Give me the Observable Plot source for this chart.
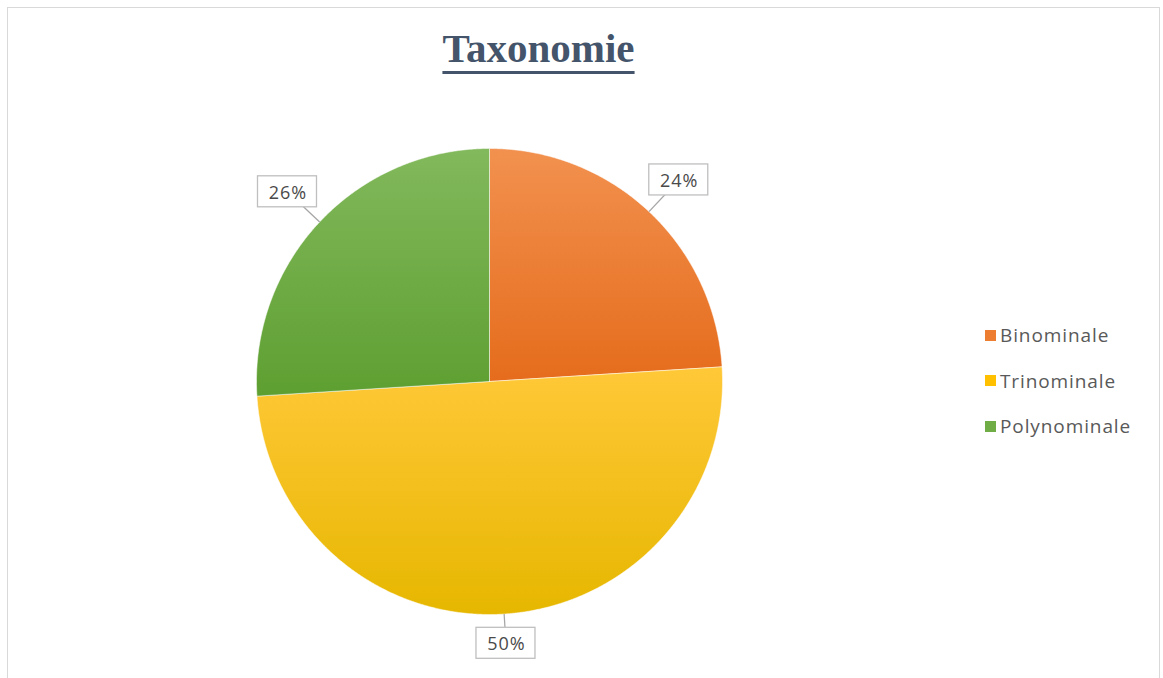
<!DOCTYPE html>
<html>
<head>
<meta charset="utf-8">
<script src="https://cdn.jsdelivr.net/npm/d3@7"></script>
<script src="https://cdn.jsdelivr.net/npm/@observablehq/plot@0.6"></script>
<style>
  html, body { margin: 0; padding: 0; background: #fff; }
  #wrap { position: relative; width: 1163px; height: 678px; overflow: hidden; }
  #frame { position: absolute; left: 7px; top: 7px; width: 1153px; height: 690px; border: 1px solid #D9D9D9; box-sizing: border-box; }
  #title { position: absolute; left: 0; top: 24px; width: 1077px; text-align: center;
           font-family: "Liberation Serif", "Times New Roman", serif; font-weight: bold; font-size: 41px;
           color: #44546A; text-decoration: underline; text-decoration-thickness: 3px; text-underline-offset: 9px; }
  #chart { position: absolute; left: 209px; top: 100px; }
  #chart text.lbl { letter-spacing: 1px; }
  #legend { position: absolute; left: 985px; top: 321px; font-family: "Open Sans", Lato, sans-serif; font-size: 19px; color: #595959; letter-spacing: 0.9px; }
  #legend .item { display: flex; align-items: center; height: 28px; margin-bottom: 17.5px; }
  #legend .sw { width: 11px; height: 11px; margin-right: 4px; }
</style>
</head>
<body>
<div id="wrap">
  <div id="frame"></div>
  <div id="title">Taxonomie</div>
  <div id="chart"></div>
  <div id="legend"></div>
</div>
<script>
// ---- data ----
const categories = ["Binominale", "Trinominale", "Polynominale"];
const values = [24, 50, 26];
const labels = ["24%", "50%", "26%"];
const colorsTop = ["#F2914F", "#FFC838", "#82B95C"];
const colorsBottom = ["#E56C1C", "#E6B700", "#5E9F31"];
const legendColors = ["#ED7D31", "#FFC000", "#70AD47"];

// ---- layout constants ----
const W = 560, H = 580;
const R = 233;             // pie radius in px
const cx = 280, cy = 281;  // pie centre in px within svg

const table = categories.map((c, i) => ({cat: c, value: values[i], label: labels[i], i}));
const arcs = d3.pie().sort(null).value(d => d.value)(table);

// polygon points for each slice (unit radius, y up)
const slicePts = [];
arcs.forEach(a => {
  const n = Math.max(8, Math.ceil((a.endAngle - a.startAngle) / 0.005));
  slicePts.push({cat: a.data.cat, x: 0, y: 0});
  for (let k = 0; k <= n; k++) {
    const t = a.startAngle + (a.endAngle - a.startAngle) * k / n;
    slicePts.push({cat: a.data.cat, x: Math.sin(t), y: Math.cos(t)});
  }
  slicePts.push({cat: a.data.cat, x: 0, y: 0});
});

// label positions
const boxW = 59, boxH = 31, gap = 12;
const labelData = arcs.map(a => {
  const m = (a.startAngle + a.endAngle) / 2;
  const dx = Math.sin(m), dy = Math.cos(m);
  const dist = (R + gap + Math.abs(dx) * boxW / 2 + Math.abs(dy) * boxH / 2) / R;
  const lx = dx * dist, ly = dy * dist;
  return {label: a.data.label, ex: dx, ey: dy, lx, ly,
          bx1: lx - boxW / 2 / R, bx2: lx + boxW / 2 / R, by1: ly - boxH / 2 / R, by2: ly + boxH / 2 / R};
});

const xDom = [-cx / R, (W - cx) / R];
const yDom = [-(H - cy) / R, cy / R];

const marks = categories.map((c, i) =>
  Plot.line(slicePts.filter(d => d.cat === c), {
    x: "x", y: "y", fill: `url(#grad${i})`, stroke: "#ffffff", strokeWidth: 1, strokeOpacity: 0.5, curve: "linear"
  })
);

const leaders = labelData.map(d => ({x1: d.ex, y1: d.ey, x2: d.lx, y2: d.ly}));
marks.push(Plot.link(leaders, {x1: "x1", y1: "y1", x2: "x2", y2: "y2", stroke: "#A6A6A6", strokeWidth: 1.3}));
marks.push(Plot.rect(labelData, {
  x1: "bx1", x2: "bx2", y1: "by1", y2: "by2", fill: "#ffffff", stroke: "#BFBFBF", strokeWidth: 1.3
}));
marks.push(Plot.text(labelData, {
  x: "lx", y: "ly", text: "label", fill: "#4A4A4A", fontSize: 18,
  fontFamily: "'Open Sans', Lato, sans-serif", dy: 1, dx: 0.5
}));

const plot = Plot.plot({
  width: W, height: H,
  margin: 0,
  x: {domain: xDom, axis: null},
  y: {domain: yDom, axis: null},
  marks
});

const svg = d3.select(plot);
svg.selectAll("g[aria-label='text'] text").attr("class", "lbl");
const defs = svg.insert("defs", ":first-child");
categories.forEach((c, i) => {
  const g = defs.append("linearGradient").attr("id", `grad${i}`)
    .attr("x1", 0).attr("y1", 0).attr("x2", 0).attr("y2", 1);
  g.append("stop").attr("offset", "0%").attr("stop-color", colorsTop[i]);
  g.append("stop").attr("offset", "100%").attr("stop-color", colorsBottom[i]);
});
document.getElementById("chart").appendChild(plot);

// legend
const leg = d3.select("#legend");
categories.forEach((c, i) => {
  const it = leg.append("div").attr("class", "item");
  it.append("div").attr("class", "sw").style("background", legendColors[i]);
  it.append("span").text(c);
});
</script>
</body>
</html>
